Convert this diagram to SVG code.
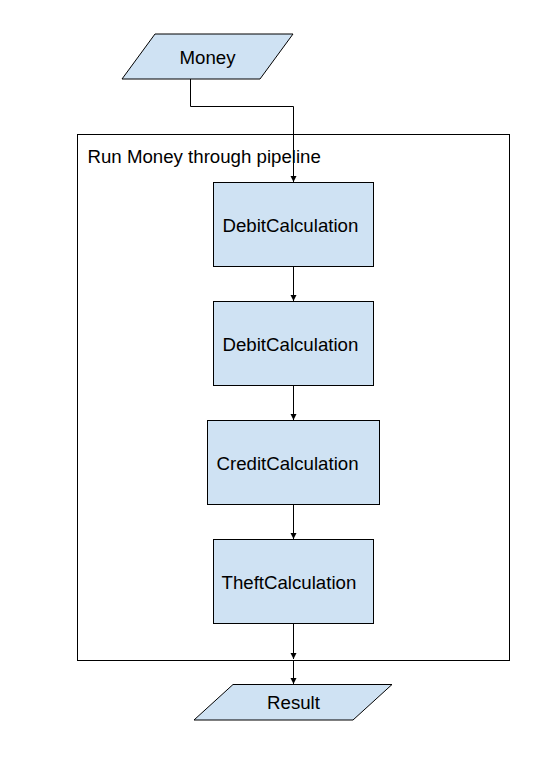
<svg xmlns="http://www.w3.org/2000/svg" width="555" height="761" viewBox="0 0 555 761">
<defs>
<style>
.shape{fill:#cfe2f3;stroke:#000;stroke-width:1}
.lbl{font-family:"Liberation Sans",Arial,sans-serif;font-size:18.67px;fill:#000}
.conn{fill:none;stroke:#000;stroke-width:1}
</style>
<marker id="arr" markerWidth="8" markerHeight="8" refX="6" refY="3" orient="auto" markerUnits="userSpaceOnUse">
<path d="M0,0 L6,3 L0,6 Z" fill="#000"/>
</marker>
</defs>
<rect width="555" height="761" fill="#fff"/>
<g id="container">
<rect x="77.5" y="134.5" width="432" height="526" fill="none" stroke="#000" stroke-width="1"/>
<text class="lbl" x="87.5" y="163">Run Money through pipeline</text>
</g>
<g id="money">
<polygon class="shape" points="155,34 293,34 260,79 122,79"/>
<text class="lbl" x="207.5" y="63.5" text-anchor="middle">Money</text>
</g>
<g id="debit1">
<rect class="shape" x="213.5" y="182.5" width="160" height="84"/>
<text class="lbl" x="222.5" y="231.5">DebitCalculation</text>
</g>
<g id="debit2">
<rect class="shape" x="213.5" y="301.5" width="160" height="84"/>
<text class="lbl" x="222.5" y="350.5">DebitCalculation</text>
</g>
<g id="credit">
<rect class="shape" x="207.5" y="420.5" width="172" height="84"/>
<text class="lbl" x="216.5" y="469.5">CreditCalculation</text>
</g>
<g id="theft">
<rect class="shape" x="213.5" y="539.5" width="160" height="84"/>
<text class="lbl" x="221.5" y="588.5">TheftCalculation</text>
</g>
<g id="result">
<polygon class="shape" points="233,684.5 392,684.5 353,720 194,720"/>
<text class="lbl" x="293.5" y="709" text-anchor="middle">Result</text>
</g>
<g id="connectors">
<path class="conn" d="M190.5,79 V106.5 H293.5 V182" marker-end="url(#arr)"/>
<path class="conn" d="M293.5,266.5 V301" marker-end="url(#arr)"/>
<path class="conn" d="M293.5,385.5 V420" marker-end="url(#arr)"/>
<path class="conn" d="M293.5,504.5 V539" marker-end="url(#arr)"/>
<path class="conn" d="M293.5,623.5 V659" marker-end="url(#arr)"/>
<path class="conn" d="M293.5,660.5 V684" marker-end="url(#arr)"/>
</g>
</svg>
